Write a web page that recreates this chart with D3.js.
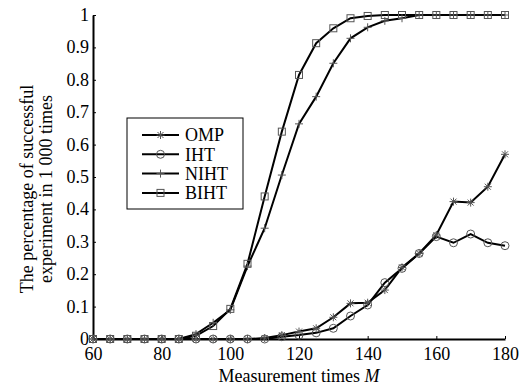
<!DOCTYPE html>
<html>
<head>
<meta charset="utf-8">
<script src="https://cdn.jsdelivr.net/npm/d3@7"></script>
<style>
  body { margin: 0; background: #fff; }
  text { font-family: "Liberation Serif", "Times New Roman", serif; fill: #000; }
</style>
</head>
<body>
<div id="chart"></div>
<script>
// data
var mValues = [60, 65, 70, 75, 80, 85, 90, 95, 100, 105, 110, 115, 120, 125, 130, 135, 140, 145, 150, 155, 160, 165, 170, 175, 180];
var ompValues  = [0, 0, 0, 0, 0, 0, 0, 0, 0, 0, 0.003, 0.012, 0.023, 0.033, 0.067, 0.11, 0.112, 0.151, 0.221, 0.264, 0.321, 0.424, 0.421, 0.47, 0.57];
var ihtValues  = [0, 0, 0, 0, 0, 0, 0, 0, 0, 0, 0, 0.007, 0.012, 0.019, 0.033, 0.071, 0.105, 0.174, 0.218, 0.264, 0.316, 0.297, 0.324, 0.297, 0.288];
var nihtValues = [0, 0, 0, 0, 0, 0, 0.015, 0.05, 0.09, 0.225, 0.342, 0.506, 0.664, 0.748, 0.851, 0.928, 0.962, 0.982, 0.99, 1, 1, 1, 1, 1, 1];
var bihtValues = [0, 0, 0, 0, 0, 0, 0.01, 0.04, 0.093, 0.232, 0.44, 0.64, 0.815, 0.913, 0.959, 0.99, 0.997, 1, 1, 1, 1, 1, 1, 1, 1];
var seriesNames = ["OMP", "IHT", "NIHT", "BIHT"];
var xTicks = [60, 80, 100, 120, 140, 160, 180];
var yTicks = [0, 0.1, 0.2, 0.3, 0.4, 0.5, 0.6, 0.7, 0.8, 0.9, 1];

var series = [
  {name: "OMP", values: ompValues, symbol: "star"},
  {name: "IHT", values: ihtValues, symbol: "circle"},
  {name: "NIHT", values: nihtValues, symbol: "plus"},
  {name: "BIHT", values: bihtValues, symbol: "square"}
];

var serif = "'Liberation Serif', 'Times New Roman', serif";

var margin = {top: 15, right: 22, bottom: 47, left: 93},
    width = 527 - margin.left - margin.right,
    height = 386 - margin.top - margin.bottom;

var svg = d3.select("#chart")
  .append("svg")
    .attr("width", 527)
    .attr("height", 386)
  .append("g")
    .attr("transform", "translate(" + margin.left + "," + margin.top + ")");

var x = d3.scaleLinear().domain([60, 180]).range([0, width]);
var y = d3.scaleLinear().domain([0, 1]).range([height, 0]);

// axes, ticks pointing inward
var xAxis = svg.append("g")
  .attr("transform", "translate(0," + height + ")")
  .call(d3.axisBottom(x).tickValues(xTicks).tickSize(-3).tickSizeOuter(0).tickPadding(7));
xAxis.attr("font-family", serif).attr("font-size", 18);
xAxis.selectAll("text").attr("dy", "0.8em");

var yAxis = svg.append("g")
  .call(d3.axisLeft(y).tickValues(yTicks).tickSize(-3).tickSizeOuter(0).tickPadding(4)
    .tickFormat(function(d) { return d === 0 ? "0" : d === 1 ? "1" : d3.format(".1f")(d); }));
yAxis.attr("font-family", serif).attr("font-size", 18);
yAxis.selectAll("text").attr("dy", "0.3em");

svg.selectAll(".domain").attr("stroke", "#000").attr("stroke-width", 2);
svg.selectAll(".tick line").attr("stroke", "#000").attr("stroke-width", 1);

// symbol drawing
function marker(sel, type, cx, cy) {
  var g = sel.append("g").attr("transform", "translate(" + cx + "," + cy + ")")
    .attr("fill", "none").attr("stroke", "#555").attr("stroke-width", 1);
  if (type === "circle") {
    g.append("circle").attr("r", 4);
  } else if (type === "square") {
    g.append("rect").attr("x", -3.5).attr("y", -3.5).attr("width", 7).attr("height", 7);
  } else if (type === "plus") {
    g.append("path").attr("d", "M-4,0H4M0,-4V4");
  } else {
    g.append("path").attr("d", "M-4,0H4M0,-4V4M-3,-3L3,3M-3,3L3,-3");
  }
}

var line = d3.line()
  .x(function(d, i) { return x(mValues[i]); })
  .y(function(d) { return y(d); });

series.forEach(function(s) {
  svg.append("path")
    .datum(s.values)
    .attr("fill", "none")
    .attr("stroke", "#000")
    .attr("stroke-width", 2)
    .attr("d", line);
});

series.forEach(function(s) {
  var mg = svg.append("g");
  s.values.forEach(function(v, i) {
    marker(mg, s.symbol, x(mValues[i]), y(v));
  });
});

// legend
var legend = svg.append("g").attr("transform", "translate(" + (127 - margin.left) + "," + (118 - margin.top) + ")");
legend.append("rect")
  .attr("width", 116).attr("height", 91)
  .attr("fill", "#fff").attr("stroke", "#000").attr("stroke-width", 1);
series.forEach(function(s, i) {
  var ly = 17 + i * 19.3;
  legend.append("line")
    .attr("x1", 15).attr("x2", 52).attr("y1", ly).attr("y2", ly)
    .attr("stroke", "#000").attr("stroke-width", 2);
  marker(legend, s.symbol, 33.5, ly);
  legend.append("text")
    .attr("x", 58).attr("y", ly).attr("dy", "0.35em")
    .style("font-size", "18px")
    .text(seriesNames[i]);
});

// axis titles
var xt = svg.append("text")
  .attr("x", width / 2).attr("y", height + 43)
  .attr("text-anchor", "middle")
  .style("font-size", "18px");
xt.append("tspan").text("Measurement times ");
xt.append("tspan").style("font-style", "italic").text("M");

var yt = svg.append("text")
  .attr("transform", "translate(" + (-60) + "," + (189 - margin.top) + ") rotate(-90)")
  .attr("text-anchor", "middle")
  .style("font-size", "18px");
yt.append("tspan").attr("x", 0).attr("dy", 0).text("The percentage of successful");
yt.append("tspan").attr("x", 0).attr("dy", "1.05em").text("experiment in 1 000 times");
</script>
</body>
</html>
